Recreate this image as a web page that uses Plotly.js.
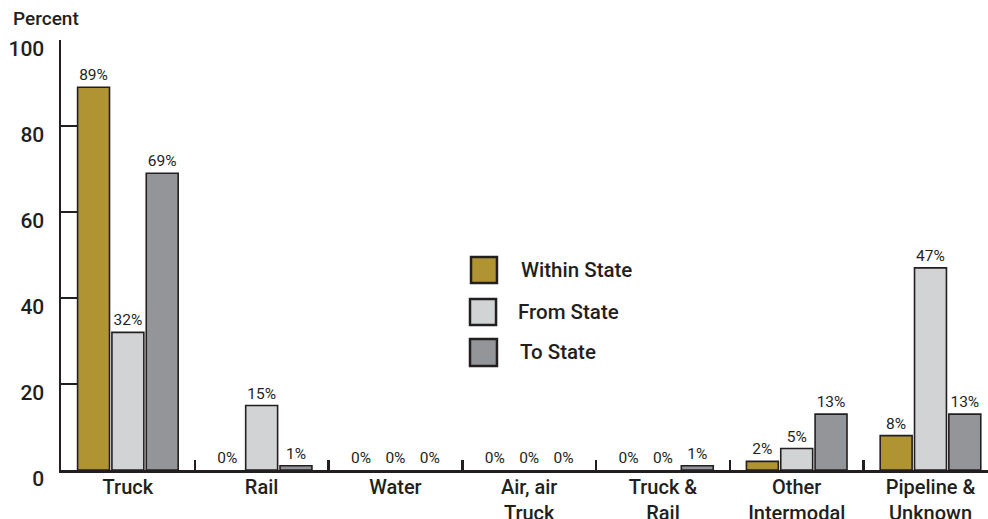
<!DOCTYPE html>
<html>
<head>
<meta charset="utf-8">
<script src="https://cdn.plot.ly/plotly-3.0.1.min.js"></script>
<style>html,body{margin:0;padding:0;overflow:hidden;background:#fff;}#chart{width:988px;height:519px;}</style>
</head>
<body>
<div id="chart"></div>
<script>
const categories = ["Truck", "Rail", "Water", "Air, air<br>Truck", "Truck &<br>Rail", "Other<br>Intermodal", "Pipeline &<br>Unknown"];
const seriesNames = ["Within State", "From State", "To State"];
const withinState = [89, 0, 0, 0, 0, 2, 8];
const fromState = [32, 15, 0, 0, 0, 5, 47];
const toState = [69, 1, 0, 0, 1, 13, 13];
const yTicks = [0, 20, 40, 60, 80, 100];
const colors = ["#B09433", "#D2D3D5", "#939598"];

const seriesValues = [withinState, fromState, toState];
const font = "Roboto, 'Liberation Sans', Arial, sans-serif";
const ink = "#231f20";

const traces = seriesValues.map((vals, i) => ({
  type: "bar",
  name: seriesNames[i],
  x: categories,
  y: vals,
  text: vals.map(v => v + "%"),
  textposition: "outside",
  cliponaxis: false,
  textfont: {family: font, size: 15.5, color: ink},
  marker: {color: colors[i], line: {color: ink, width: vals.map(v => v === 0 ? 0 : 1.6)}},
  showlegend: false,
  hoverinfo: "x+y"
}));

// manual legend boxes (paper coordinates of plot area)
const legendBoxes = [
  {x0: 0.4423, x1: 0.4703, y0: 0.4349, y1: 0.4953, ty: 0.4651, tx: 0.4941},
  {x0: 0.4412, x1: 0.4693, y0: 0.3372, y1: 0.3977, ty: 0.3674, tx: 0.4909},
  {x0: 0.4412, x1: 0.4703, y0: 0.2419, y1: 0.3047, ty: 0.2744, tx: 0.4930}
];
const shapes = legendBoxes.map((b, i) => ({
  type: "rect", xref: "paper", yref: "paper",
  x0: b.x0, x1: b.x1, y0: b.y0, y1: b.y1,
  fillcolor: colors[i], line: {color: ink, width: 2.5}
}));
const annotations = legendBoxes.map((b, i) => ({
  xref: "paper", yref: "paper", x: b.tx, y: b.ty,
  xanchor: "left", yanchor: "middle", showarrow: false,
  text: seriesNames[i],
  font: {family: font, size: 20.5, color: ink, weight: 500}
}));
annotations.push({
  xref: "paper", yref: "paper", x: -0.054, y: 1.051,
  xanchor: "left", yanchor: "middle", showarrow: false,
  text: "Percent", font: {family: font, size: 19, color: ink, weight: 500}
});

const layout = {
  width: 988, height: 519,
  margin: {l: 61, r: 0, t: 40, b: 49},
  paper_bgcolor: "#fff", plot_bgcolor: "#fff",
  barmode: "group", bargap: 0.23, bargroupgap: 0.07,
  xaxis: {
    type: "category",
    range: [-0.5, 6.43],
    showline: true, linecolor: ink, linewidth: 2.5,
    ticks: "inside", tickson: "boundaries", ticklen: 10, tickwidth: 2.5, tickcolor: ink,
    showgrid: false, zeroline: false,
    tickfont: {family: font, size: 20, color: ink, weight: 500},
    ticklabelstandoff: -3,
    layer: "below traces", fixedrange: true
  },
  yaxis: {
    range: [0, 100],
    tickvals: yTicks, ticktext: yTicks.map(String),
    showline: true, linecolor: ink, linewidth: 2.5,
    ticks: "inside", ticklen: 23, tickwidth: 2.5, tickcolor: ink,
    showgrid: false, zeroline: false,
    tickfont: {family: font, size: 21, color: ink, weight: 500},
    ticklabelstandoff: 10,
    ticklabelshift: 9,
    layer: "below traces", fixedrange: true
  },
  shapes: shapes,
  annotations: annotations,
  showlegend: false
};

Plotly.newPlot("chart", traces, layout, {displayModeBar: false, staticPlot: true});
</script>
</body>
</html>
